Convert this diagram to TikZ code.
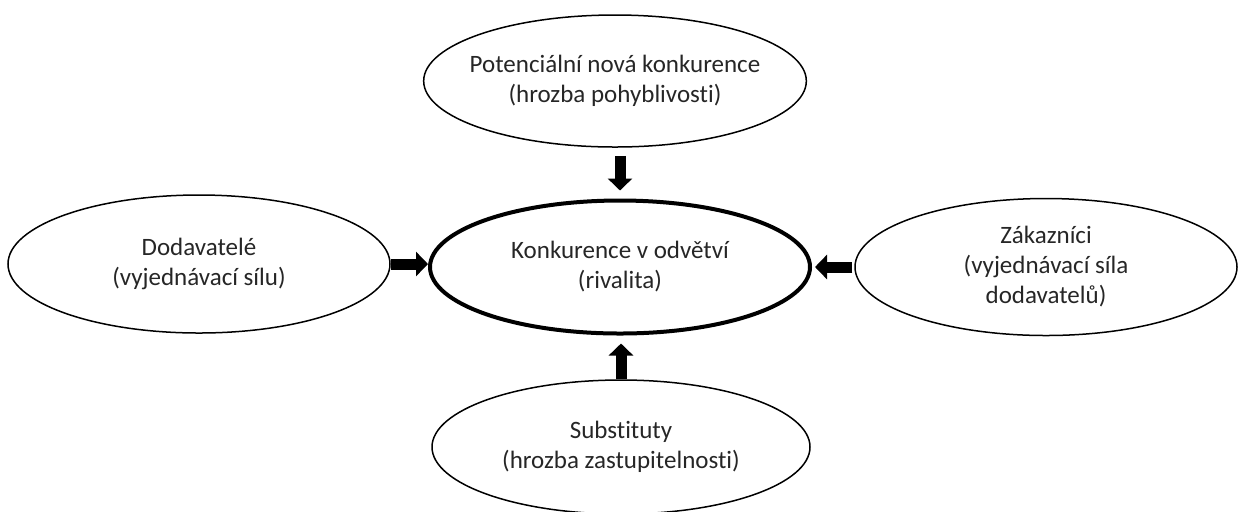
\documentclass[tikz,border=0pt]{standalone}
\usepackage{fontspec}
\setmainfont[Ligatures=NoCommon]{Carlito}
\usetikzlibrary{shapes.geometric,arrows.meta}

\begin{document}
\begin{tikzpicture}
[
	force/.style={ellipse,draw,line width=0.75pt,inner sep=0pt,align=center,
		text=black!85,font=\fontsize{12.5}{15}\selectfont},
	rival/.style={force,line width=2pt},
	push/.style={line width=5.5pt,-{Triangle[width=12pt,length=6pt]}},
	x=0.5pt,y=-0.5pt
]

	\useasboundingbox (0,0) rectangle (1241,511);

	% the five forces
	\node[force,inner xsep=-5pt,minimum width=190.5pt,minimum height=66pt] at (615,81) (pot)
		{Potenciální nová konkurence\\(hrozba pohyblivosti)};
	\node[force,minimum width=191pt,minimum height=69pt] at (199,264) (dod)
		{Dodavatelé\\(vyjednávací sílu)};
	\node[rival,minimum width=190pt,minimum height=66.5pt] at (620,267) (kon)
		{Konkurence v odvětví\\(rivalita)};
	\node[force,minimum width=191pt,minimum height=68.5pt] at (1046,267) (zak)
		{Zákazníci\\(vyjednávací síla\\dodavatelů)};
	\node[force,minimum width=189pt,minimum height=67pt] at (621,447) (sub)
		{Substituty\\(hrozba zastupitelnosti)};

	% arrows into the middle
	\draw[push,shorten <=4pt,shorten >=4pt] (kon.north |- pot.south) -- (kon.north);
	\draw[push] (dod.east) -- (dod.east -| kon.west);
	\draw[push,shorten <=1pt,shorten >=1.5pt] (zak.west) -- (zak.west -| kon.east);
	\draw[push,shorten >=4pt] (sub.north) -- (sub.north |- kon.south);

\end{tikzpicture}
\end{document}
